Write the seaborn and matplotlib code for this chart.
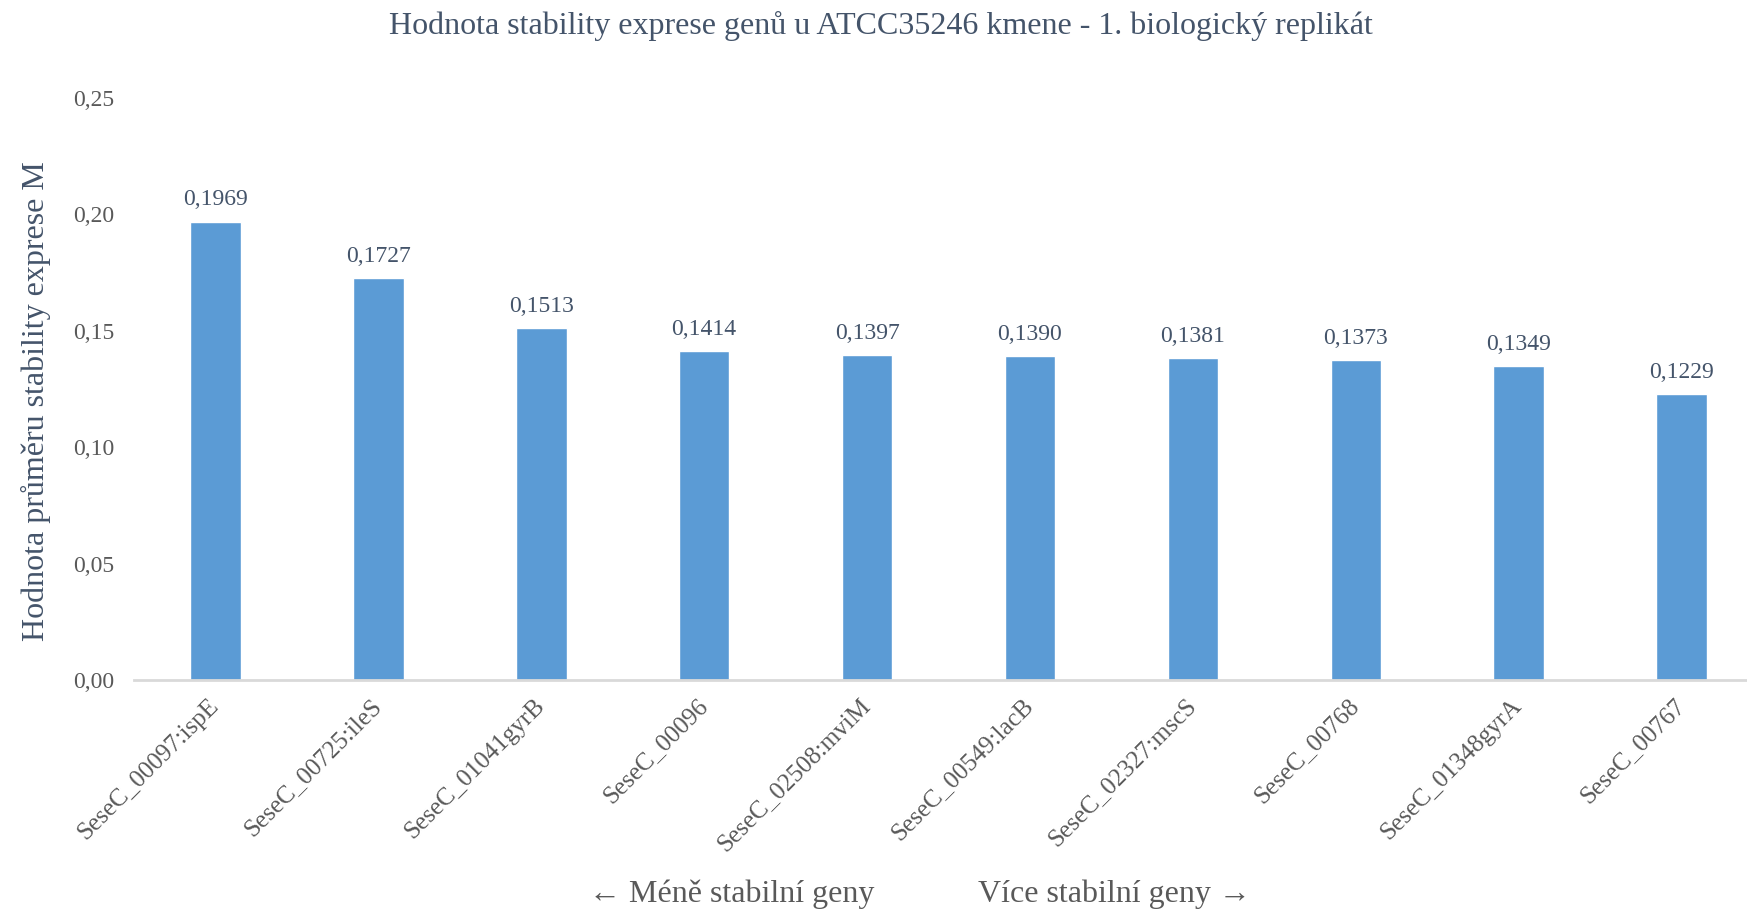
import matplotlib
matplotlib.use("Agg")
import matplotlib.pyplot as plt
import seaborn as sns
import pandas as pd

# data
genes = ["SeseC_00097:ispE", "SeseC_00725:ileS", "SeseC_01041gyrB", "SeseC_00096",
         "SeseC_02508:mviM", "SeseC_00549:lacB", "SeseC_02327:mscS", "SeseC_00768",
         "SeseC_01348gyrA", "SeseC_00767"]
m_values = [0.1969, 0.1727, 0.1513, 0.1414, 0.1397, 0.1390, 0.1381, 0.1373, 0.1349, 0.1229]
y_ticks = [0.00, 0.05, 0.10, 0.15, 0.20, 0.25]

df = pd.DataFrame({"gen": genes, "M": m_values})

sns.set_style("white")
plt.rcParams["font.family"] = ["Liberation Serif", "DejaVu Serif"]

blue = "#5B9BD5"
dark = "#44546A"
grey = "#595959"

fig = plt.figure(figsize=(17.47, 9.11), dpi=100)
ax = fig.add_axes([0.0767, 0.2536, 0.9325, 0.6389])

sns.barplot(data=df, x="gen", y="M", color=blue, saturation=1, width=0.31, ax=ax)

ax.set_ylim(0, 0.25)
ax.set_yticks(y_ticks)
ax.set_yticklabels([f"{t:.2f}".replace(".", ",") for t in y_ticks], fontsize=17, color=grey)
ax.set_xticks(range(len(genes)))
ax.set_xticklabels(genes, rotation=45, ha="right", va="center", rotation_mode="anchor",
                   fontsize=18, color=grey)
ax.tick_params(axis="y", length=0, pad=14)
ax.tick_params(axis="x", length=0, pad=16)

for s in ["top", "right", "left"]:
    ax.spines[s].set_visible(False)
ax.spines["bottom"].set_color("#D9D9D9")
ax.spines["bottom"].set_linewidth(2)

ax.bar_label(ax.containers[0], labels=[f"{v:.4f}".replace(".", ",") for v in m_values],
             padding=8, fontsize=17, color=dark)

ax.set_xlabel("")
ax.set_ylabel("Hodnota průměru stability exprese M", fontsize=23, color=dark)
ax.yaxis.set_label_coords(-0.051, 0.479)

fig.text(0.504, 0.972, "Hodnota stability exprese genů u ATCC35246 kmene - 1. biologický replikát",
         ha="center", va="center", fontsize=23, color=dark)

fig.text(0.419, 0.018, "← Méně stabilní geny", ha="center", va="center", fontsize=23, color=grey)
fig.text(0.638, 0.018, "Více stabilní geny →", ha="center", va="center", fontsize=23, color=grey)

fig.savefig("out.png", dpi=100)
